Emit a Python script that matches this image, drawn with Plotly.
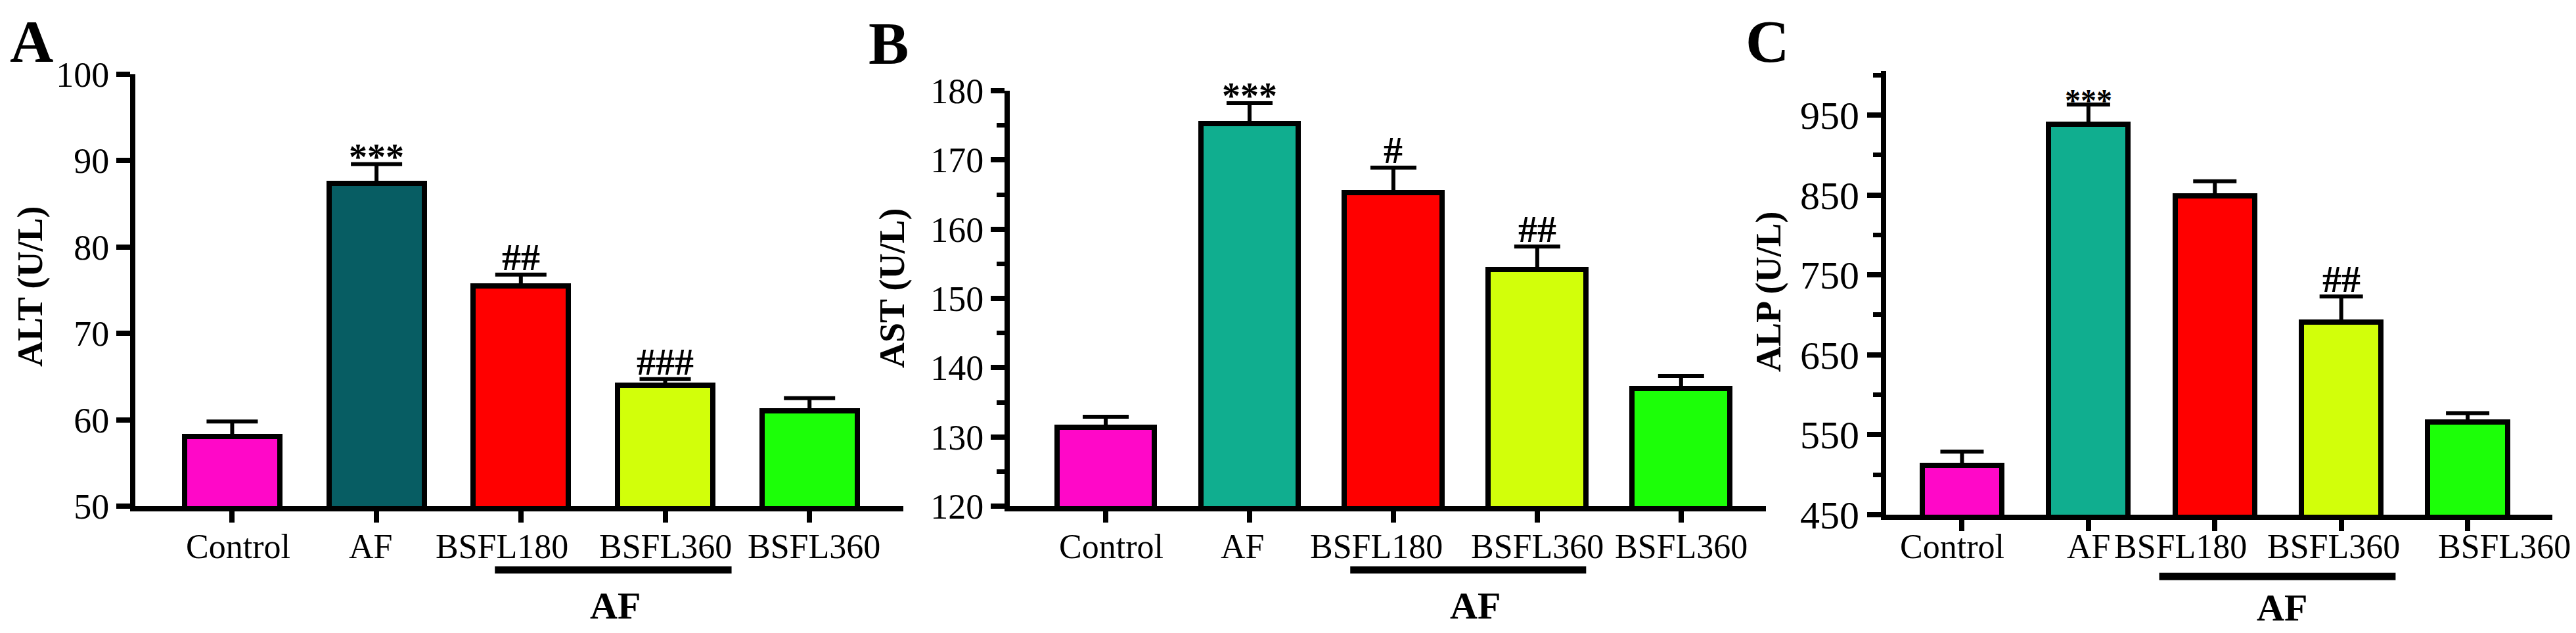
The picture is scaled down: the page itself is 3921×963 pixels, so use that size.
import plotly.graph_objects as go

# ---------------- data ----------------
groups = ["Control", "AF", "BSFL180", "BSFL360", "BSFL360"]
bar_colors_A = ["#ff08c8", "#075d63", "#ff0000", "#d2ff0a", "#1cff08"]
bar_colors_BC = ["#ff08c8", "#10ae8f", "#ff0000", "#d2ff0a", "#1cff08"]

alt_mean = [58.1, 87.4, 75.5, 64.0, 61.0]
alt_sem = [1.7, 2.2, 1.3, 0.7, 1.5]
alt_sig = ["", "***", "##", "###", ""]

ast_mean = [131.4, 175.3, 165.3, 154.2, 137.0]
ast_sem = [1.5, 2.9, 3.6, 3.3, 1.8]
ast_sig = ["", "***", "#", "##", ""]

alp_mean = [512, 938, 849, 691, 566]
alp_sem = [17, 25, 18, 32, 11]
alp_sig = ["", "***", "", "##", ""]

alt_ticks = [50, 60, 70, 80, 90, 100]
ast_ticks = [120, 130, 140, 150, 160, 170, 180]
alp_ticks = [450, 550, 650, 750, 850, 950]

# ---------------- layout helpers ----------------
W, H = 3921, 963
FONT = "Liberation Serif"
pos = list(range(len(groups)))


def px_x(p):
    return p / W


def px_y(p):
    return 1 - p / H


panels = [
    dict(key="", letter="A", title="ALT (U/L)", mean=alt_mean, sem=alt_sem, sig=alt_sig,
         colors=bar_colors_A, ticks=alt_ticks, yr=[50, 100], minor=None,
         xd=[206, 1375], yd=[770, 113], xr=[-0.671, 4.65], bw=0.66, cap=39,
         ytick_size=54, letter_xy=(48, 63), title_xy=(46, 436),
         lbl_off=[0.04, -0.04, -0.13, 0.0, 0.03], line=(1.82, 3.46, 867), af_xy=(936, 921)),
    dict(key="2", letter="B", title="AST (U/L)", mean=ast_mean, sem=ast_sem, sig=ast_sig,
         colors=bar_colors_BC, ticks=ast_ticks, yr=[120, 180], minor=5,
         xd=[1537, 2688], yd=[770, 138], xr=[-0.667, 4.59], bw=0.68, cap=35,
         ytick_size=54, letter_xy=(1352, 66), title_xy=(1358, 438),
         lbl_off=[0.04, -0.05, -0.12, 0.0, 0.0], line=(1.70, 3.34, 867), af_xy=(2245, 921)),
    dict(key="3", letter="C", title="ALP (U/L)", mean=alp_mean, sem=alp_sem, sig=alp_sig,
         colors=bar_colors_BC, ticks=alp_ticks, yr=[450, 1005], minor=50,
         xd=[2871, 3885], yd=[783, 108], xr=[-0.60, 4.67], bw=0.63, cap=33,
         ytick_size=60, letter_xy=(2690, 63), title_xy=(2692, 444),
         lbl_off=[-0.08, 0.0, -0.27, -0.06, 0.29], line=(1.56, 3.43, 877), af_xy=(3473, 924)),
]

fig = go.Figure()
annotations = []
shapes = []

for p in panels:
    k = p["key"]
    xa, ya = "x" + k, "y" + k
    fig.add_trace(go.Bar(
        x=pos, y=p["mean"], xaxis=xa, yaxis=ya, width=p["bw"],
        marker=dict(color=p["colors"], line=dict(color="black", width=8)),
        error_y=dict(type="data", array=p["sem"], arrayminus=[0] * len(pos), symmetric=False,
                     color="black", thickness=6, width=p["cap"]),
        showlegend=False, hoverinfo="skip",
    ))
    xaxis = dict(domain=[px_x(p["xd"][0]), px_x(p["xd"][1])], range=p["xr"], anchor=ya,
                 showline=True, linewidth=8, linecolor="black", ticks="outside",
                 ticklen=17, tickwidth=8, tickcolor="black", tickvals=pos,
                 showticklabels=False, showgrid=False, zeroline=False, fixedrange=True,
                 automargin=False)
    yaxis = dict(domain=[px_y(p["yd"][0]), px_y(p["yd"][1])], range=p["yr"], anchor=xa,
                 showline=True, linewidth=8, linecolor="black", ticks="outside",
                 ticklen=21, tickwidth=8, tickcolor="black", tickvals=p["ticks"],
                 tickfont=dict(family=FONT, size=p["ytick_size"], color="black"),
                 showgrid=False, zeroline=False, fixedrange=True, automargin=False)
    if p["minor"]:
        yaxis["minor"] = dict(dtick=p["minor"], tick0=p["yr"][0], ticks="outside",
                              ticklen=12, tickwidth=7, tickcolor="black", showgrid=False)
    fig.update_layout(**{"xaxis" + k: xaxis, "yaxis" + k: yaxis})

    # category labels
    for i, g in enumerate(groups):
        annotations.append(dict(x=pos[i] + p["lbl_off"][i], y=px_y(831), xref=xa, yref="paper",
                                text=g, showarrow=False, xanchor="center", yanchor="middle",
                                font=dict(family=FONT, size=52, color="black")))
    # significance marks
    for i, s in enumerate(p["sig"]):
        if s:
            star = s.startswith("*")
            annotations.append(dict(x=pos[i], y=p["mean"][i] + p["sem"][i], xref=xa, yref=ya,
                                    text="<b>" + s + "</b>", showarrow=False,
                                    xanchor="center", yanchor="bottom",
                                    yshift=-22 if star else -8,
                                    font=dict(family=FONT, size=(56 if k != "3" else 48) if star else 58,
                                              color="black")))
    # group line and label
    x0, x1, ly = p["line"]
    shapes.append(dict(type="line", xref=xa, yref="paper", x0=x0, x1=x1,
                       y0=px_y(ly), y1=px_y(ly), line=dict(color="black", width=11)))
    annotations.append(dict(x=px_x(p["af_xy"][0]), y=px_y(p["af_xy"][1]), xref="paper", yref="paper",
                            text="<b>AF</b>", showarrow=False, xanchor="center", yanchor="middle",
                            font=dict(family=FONT, size=58, color="black")))
    # axis title
    annotations.append(dict(x=px_x(p["title_xy"][0]), y=px_y(p["title_xy"][1]), xref="paper", yref="paper",
                            text="<b>" + p["title"] + "</b>", showarrow=False, textangle=-90,
                            xanchor="center", yanchor="middle",
                            font=dict(family=FONT, size=54, color="black")))
    # panel letter
    annotations.append(dict(x=px_x(p["letter_xy"][0]), y=px_y(p["letter_xy"][1]), xref="paper", yref="paper",
                            text="<b>" + p["letter"] + "</b>", showarrow=False,
                            xanchor="center", yanchor="middle",
                            font=dict(family=FONT, size=92, color="black")))

fig.update_layout(
    template="none",
    width=W, height=H, margin=dict(l=0, r=0, t=0, b=0, pad=0, autoexpand=False),
    paper_bgcolor="white", plot_bgcolor="white",
    annotations=annotations, shapes=shapes, bargap=0,
)

fig.write_html("out.html")
